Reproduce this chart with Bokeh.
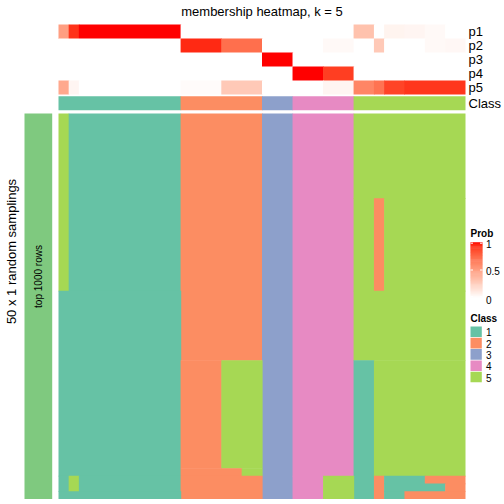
import math
from bokeh.plotting import figure
from bokeh.models import Range1d
from bokeh.embed import file_html
from bokeh.resources import INLINE
from bokeh.core.properties import value

# ---------------- data ----------------
TITLE = "membership heatmap, k = 5"
CLASS_LABELS = ["1", "2", "3", "4", "5"]
CLASS_COLORS = ["#66C2A5", "#FC8D62", "#8DA0CB", "#E78AC3", "#A6D854"]
PROB_NAMES = ["p1", "p2", "p3", "p4", "p5"]
CLASS_ROW_NAME = "Class"
PROB_TICKS = [0, 0.5, 1]
PROB_TICK_LABELS = ["0", "0.5", "1"]
ROW_TITLE = "50 x 1 random samplings"
ROW_ANNO_LABEL = "top 1000 rows"
ROW_ANNO_COLOR = "#7FC97F"

# class of each of the 40 samples (columns)
sample_class = [1, 1, 1, 1, 1, 1, 1, 1, 1, 1, 1, 1,
                2, 2, 2, 2, 2, 2, 2, 2,
                3, 3, 3,
                4, 4, 4, 4, 4, 4,
                5, 5, 5, 5, 5, 5, 5, 5, 5, 5, 5]

# membership probabilities per sample
p1 = [0.50, 0.93, 1, 1, 1, 1, 1, 1, 1, 1, 1, 1,
      0, 0, 0, 0, 0, 0, 0, 0,
      0, 0, 0,
      0, 0, 0, 0, 0, 0,
      0.32, 0.32, 0, 0.06, 0.06, 0.05, 0.05, 0.03, 0.03, 0, 0]
p2 = [0, 0, 0, 0, 0, 0, 0, 0, 0, 0, 0, 0,
      0.95, 0.95, 0.95, 0.95, 0.72, 0.72, 0.72, 0.72,
      0, 0, 0,
      0, 0, 0, 0.03, 0.03, 0.03,
      0, 0, 0.28, 0, 0, 0, 0, 0.03, 0.03, 0.04, 0.04]
p3 = [0, 0, 0, 0, 0, 0, 0, 0, 0, 0, 0, 0,
      0, 0, 0, 0, 0, 0, 0, 0,
      1, 1, 1,
      0, 0, 0, 0, 0, 0,
      0, 0, 0, 0, 0, 0, 0, 0, 0, 0, 0]
p4 = [0, 0, 0, 0, 0, 0, 0, 0, 0, 0, 0, 0,
      0, 0, 0, 0, 0, 0, 0, 0,
      0, 0, 0,
      1, 1, 1, 0.9, 0.9, 0.9,
      0, 0, 0, 0, 0, 0, 0, 0, 0, 0, 0]
p5 = [0.45, 0.05, 0, 0, 0, 0, 0, 0, 0, 0, 0, 0,
      0.02, 0.02, 0.02, 0.02, 0.28, 0.28, 0.28, 0.28,
      0, 0, 0,
      0, 0, 0, 0.05, 0.05, 0.05,
      0.62, 0.62, 0.70, 0.88, 0.88, 0.92, 0.92, 0.92, 0.92, 0.92, 0.92]

# class assigned in each of the 50 random samplings (rows) for each sample
membership = [
    "5111111111112222222233344444455555555555",  # 0
    "5111111111112222222233344444455555555555",
    "5111111111112222222233344444455555555555",
    "5111111111112222222233344444455555555555",
    "5111111111112222222233344444455555555555",
    "5111111111112222222233344444455555555555",
    "5111111111112222222233344444455555555555",
    "5111111111112222222233344444455555555555",
    "5111111111112222222233344444455555555555",
    "5111111111112222222233344444455555555555",
    "5111111111112222222233344444455555555555",  # 10
    "5111111111112222222233344444455255555555",
    "5111111111112222222233344444455255555555",
    "5111111111112222222233344444455255555555",
    "5111111111112222222233344444455255555555",
    "5111111111112222222233344444455255555555",
    "5111111111112222222233344444455255555555",
    "5111111111112222222233344444455255555555",
    "5111111111112222222233344444455255555555",
    "5111111111112222222233344444455255555555",
    "5111111111112222222233344444455255555555",  # 20
    "5111111111112222222233344444455255555555",
    "5111111111112222222233344444455255555555",
    "1111111111112222222233344444455555555555",
    "1111111111112222222233344444455555555555",
    "1111111111112222222233344444455555555555",
    "1111111111112222222233344444455555555555",
    "1111111111112222222233344444455555555555",
    "1111111111112222222233344444455555555555",
    "1111111111112222222233344444455555555555",
    "1111111111112222222233344444455555555555",  # 30
    "1111111111112222222233344444455555555555",
    "1111111111112222555533344444411555555555",
    "1111111111112222555533344444411555555555",
    "1111111111112222555533344444411555555555",
    "1111111111112222555533344444411555555555",
    "1111111111112222555533344444411555555555",
    "1111111111112222555533344444411555555555",
    "1111111111112222555533344444411555555555",
    "1111111111112222555533344444411555555555",
    "1111111111112222555533344444411555555555",  # 40
    "1111111111112222555533344444411555555555",
    "1111111111112222555533344444411555555555",
    "1111111111112222555533344444411555555555",
    "1111111111112222555533344444411555555555",
    "1111111111112222555533344444411555555555",
    "1111111111112222225533344444411555555555",
    "1511111111112222222233344455511211112222",
    "1511111111112222222233344455511211111122",
    "1111111111112222222233344455511211222222",  # 49
]

# ---------------- layout (reference pixel frame, 1:1) ----------------
FONT = "Liberation Sans"
HM_L, HM_R = 58.0, 465.0       # heatmap left / right
HM_T, HM_B = 113.0, 498.5      # main body top / bottom
N_COL = len(sample_class)
N_ROW = len(membership)
CW = (HM_R - HM_L) / N_COL
RH = (HM_B - HM_T) / N_ROW
ANNO_T = [24.0, 38.0, 52.0, 66.0, 80.0]
ANNO_H = 14.0
CLASS_T, CLASS_H = 95.8, 13.9
OV = 0.6                       # overlap to avoid anti-aliasing seams


def fpx(sz):
    return f"{sz:.2f}px"


# white -> red colour ramp interpolated in CIE LAB
def _lin(c):
    c = c / 255.0
    return c / 12.92 if c <= 0.04045 else ((c + 0.055) / 1.055) ** 2.4


def _gam(c):
    v = 12.92 * c if c <= 0.0031308 else 1.055 * c ** (1 / 2.4) - 0.055
    return max(0, min(255, int(round(v * 255))))


WN = (0.95047, 1.0, 1.08883)


def rgb2lab(r, g, b):
    R, G, B = _lin(r), _lin(g), _lin(b)
    X = 0.4124564 * R + 0.3575761 * G + 0.1804375 * B
    Y = 0.2126729 * R + 0.7151522 * G + 0.0721750 * B
    Z = 0.0193339 * R + 0.1191920 * G + 0.9503041 * B
    d = 6 / 29
    f = lambda t: t ** (1 / 3) if t > d ** 3 else t / (3 * d * d) + 4 / 29
    fx, fy, fz = f(X / WN[0]), f(Y / WN[1]), f(Z / WN[2])
    return 116 * fy - 16, 500 * (fx - fy), 200 * (fy - fz)


def lab2hex(L, a, b):
    d = 6 / 29
    fy = (L + 16) / 116
    fx = fy + a / 500
    fz = fy - b / 200
    finv = lambda t: t ** 3 if t > d else 3 * d * d * (t - 4 / 29)
    X, Y, Z = WN[0] * finv(fx), WN[1] * finv(fy), WN[2] * finv(fz)
    R = 3.2404542 * X - 1.5371385 * Y - 0.4985314 * Z
    G = -0.9692660 * X + 1.8760108 * Y + 0.0415560 * Z
    B = 0.0556434 * X - 0.2040259 * Y + 1.0572252 * Z
    return "#%02x%02x%02x" % (_gam(R), _gam(G), _gam(B))


LAB_W = rgb2lab(255, 255, 255)
LAB_R = rgb2lab(255, 0, 0)


def prob_color(t):
    t = max(0.0, min(1.0, t))
    return lab2hex(*[w + (r - w) * t for w, r in zip(LAB_W, LAB_R)])


def runs(seq):
    """(start, end_exclusive, value) for runs of equal values."""
    out = []
    s = 0
    for i in range(1, len(seq) + 1):
        if i == len(seq) or seq[i] != seq[s]:
            out.append((s, i, seq[s]))
            s = i
    return out


# ---------------- figure ----------------
p = figure(width=504, height=504, x_range=Range1d(0, 504), y_range=Range1d(504, 0),
           output_backend="svg", toolbar_location=None, min_border=0,
           x_axis_location=None, y_axis_location=None)
p.grid.visible = False
p.outline_line_color = None
p.background_fill_color = "white"
p.border_fill_color = "white"

# main membership heatmap: horizontal runs, merged vertically into blocks
blocks = []
active = {}
for r, row in enumerate(membership + [None]):
    cur = set(runs(row)) if row is not None else set()
    for key in list(active):
        if key not in cur:
            blocks.append((key, active.pop(key), r))
    for key in cur:
        if key not in active:
            active[key] = r
L, R, T, B, C = [], [], [], [], []
for (c0, c1, cls), r0, r1 in sorted(blocks, key=lambda b: (b[1], b[0][0])):
    L.append(HM_L + c0 * CW)
    R.append(HM_L + c1 * CW + (OV if c1 < N_COL else 0))
    T.append(HM_T + r0 * RH)
    B.append(HM_T + r1 * RH + (OV if r1 < N_ROW else 0))
    C.append(CLASS_COLORS[int(cls) - 1])
p.quad(left=L, right=R, top=T, bottom=B, fill_color=C, line_color=None)

# top probability annotation rows
L, R, T, B, C = [], [], [], [], []
for k, vals in enumerate([p1, p2, p3, p4, p5]):
    for c0, c1, v in runs(vals):
        L.append(HM_L + c0 * CW)
        R.append(HM_L + c1 * CW + (OV if c1 < N_COL else 0))
        T.append(ANNO_T[k])
        B.append(ANNO_T[k] + ANNO_H + (OV if k < 4 else 0))
        C.append(prob_color(v))
p.quad(left=L, right=R, top=T, bottom=B, fill_color=C, line_color=None)

# class annotation row
L, R, C = [], [], []
for c0, c1, cls in runs(sample_class):
    L.append(HM_L + c0 * CW)
    R.append(HM_L + c1 * CW + (OV if c1 < N_COL else 0))
    C.append(CLASS_COLORS[cls - 1])
p.quad(left=L, right=R, top=[CLASS_T] * len(L), bottom=[CLASS_T + CLASS_H] * len(L),
       fill_color=C, line_color=None)

# annotation names
names = PROB_NAMES + [CLASS_ROW_NAME]
ny = [t + ANNO_H / 2 for t in ANNO_T] + [CLASS_T + CLASS_H / 2]
p.text(x=[468] * len(names), y=ny, text=names, text_font=value(FONT),
       text_font_size=fpx(13), text_baseline="middle", text_align="left", text_color="black")

# title
p.text(x=[(HM_L + HM_R) / 2], y=[10.5], text=[TITLE], text_font=value(FONT),
       text_font_size=fpx(13), text_baseline="middle", text_align="center", text_color="black")

# left row annotation bar
p.quad(left=[24], right=[51.7], top=[HM_T], bottom=[HM_B], fill_color=ROW_ANNO_COLOR,
       line_color=None)
p.text(x=[38], y=[276], text=[ROW_ANNO_LABEL], angle=math.pi / 2, text_font=value(FONT),
       text_font_size=fpx(10), text_baseline="middle", text_align="center", text_color="black")
p.text(x=[11], y=[251], text=[ROW_TITLE], angle=math.pi / 2, text_font=value(FONT),
       text_font_size=fpx(13), text_baseline="middle", text_align="center", text_color="black")

# ---- Prob legend ----
LG_X = 470.0
p.text(x=[LG_X], y=[233], text=["Prob"], text_font=value(FONT), text_font_style="bold",
       text_font_size=fpx(10), text_baseline="middle", text_align="left", text_color="black")
GB_T, GB_B = 241.7, 297.3
NSTEP = 60
gl, gr, gt, gb, gc = [], [], [], [], []
for s in range(NSTEP):
    t0 = s / NSTEP
    t1 = (s + 1) / NSTEP
    gl.append(LG_X)
    gr.append(LG_X + 12)
    gb.append(GB_B - t0 * (GB_B - GB_T))
    gt.append(GB_B - t1 * (GB_B - GB_T) - (0.5 if s < NSTEP - 1 else 0))
    gc.append(prob_color((t0 + t1) / 2))
p.quad(left=gl, right=gr, top=gt, bottom=gb, fill_color=gc, line_color=None)
tick_y = [GB_B - t * (GB_B - GB_T) for t in PROB_TICKS]
tick_y = [min(max(y, GB_T + 1), GB_B - 1) for y in tick_y]
p.segment(x0=[LG_X] * 3 + [LG_X + 9.5] * 3, x1=[LG_X + 2.5] * 3 + [LG_X + 12] * 3,
          y0=tick_y + tick_y, y1=tick_y + tick_y, line_color="white", line_width=1)
lab_off = {0: 2.0, 0.5: 0.5, 1: 1.5}
p.text(x=[LG_X + 15.5] * 3, y=[GB_B - t * (GB_B - GB_T) + lab_off[t] for t in PROB_TICKS],
       text=PROB_TICK_LABELS, text_font=value(FONT), text_font_size=fpx(10),
       text_baseline="middle", text_align="left", text_color="black")

# ---- Class legend ----
p.text(x=[LG_X], y=[317.7], text=["Class"], text_font=value(FONT), text_font_style="bold",
       text_font_size=fpx(10), text_baseline="middle", text_align="left", text_color="black")
SQ_T0, SQ_STEP, SQ_H = 326.0, 11.3, 10.6
sq_t = [SQ_T0 + i * SQ_STEP for i in range(len(CLASS_LABELS))]
p.quad(left=[LG_X] * 5, right=[LG_X + 11.3] * 5, top=sq_t, bottom=[t + SQ_H for t in sq_t],
       fill_color=CLASS_COLORS, line_color=None)
p.text(x=[LG_X + 15.5] * 5, y=[t + SQ_H / 2 + 0.5 for t in sq_t], text=CLASS_LABELS,
       text_font=value(FONT), text_font_size=fpx(10), text_baseline="middle",
       text_align="left", text_color="black")

open("out.html", "w").write(file_html(p, INLINE))
